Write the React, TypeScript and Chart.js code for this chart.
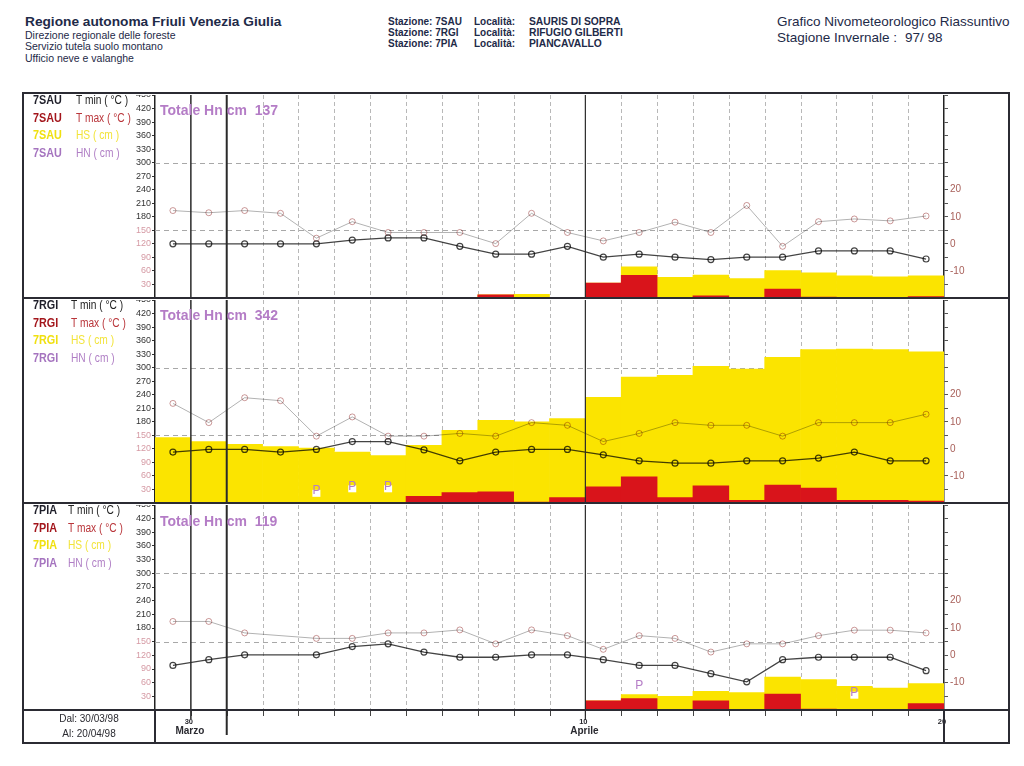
import React, { useEffect, useRef } from 'react';
import { Chart, registerables } from 'chart.js';

Chart.register(...registerables);

// ---------- data ----------
const days = ['30', '31', '1', '2', '3', '4', '5', '6', '7', '8', '9', '10', '11', '12', '13', '14', '15', '16', '17', '18', '19', '20'];
const axisTickBoundaries = [1, 12, 22];
const axisTickDays = ['30', '10', '20'];
const axisTickMonths = ['Marzo', 'Aprile', ''];
const strongBoundaries = [1, 2, 12];
const hsGridValues = [150, 300];
const tempLabelValues = [-10, 0, 10, 20];

const sauTmin = [0, 0, 0, 0, 0, 1.4, 2.2, 2.2, -0.9, -3.8, -3.8, -0.9, -4.9, -3.8, -4.9, -5.8, -4.9, -4.9, -2.6, -2.6, -2.6, -5.6];
const sauTmax = [12.3, 11.5, 12.3, 11.3, 2.1, 8.2, 4.2, 4.2, 4.2, 0.1, 11.3, 4.2, 1.1, 4.2, 8.0, 4.2, 14.2, -0.9, 8.2, 9.2, 8.5, 10.3];
const sauHS = [null, null, null, null, null, null, null, null, null, 7, 8, null, 33, 69, 46, 51, 43, 61, 56, 49, 47, 49];
const sauHN = [null, null, null, null, null, null, null, null, null, 7, null, null, 33, 50, null, 5, null, 20, 2, null, null, 3];
const sauTotal = 137;
const sauPDays: number[] = [];
const sauPLevels: number[] = [];

const rgiTmin = [-1.2, -0.2, -0.2, -1.2, -0.2, 2.7, 2.7, -0.4, -4.4, -1.2, -0.2, -0.2, -2.2, -4.4, -5.3, -5.3, -4.4, -4.4, -3.4, -1.2, -4.4, -4.4];
const rgiTmax = [16.8, 9.7, 18.9, 17.8, 4.7, 11.8, 4.7, 4.7, 5.7, 4.7, 9.7, 8.7, 2.7, 5.7, 9.7, 8.7, 8.7, 4.7, 9.7, 9.7, 9.7, 12.8];
const rgiHS = [145, 136, 130, 125, 122, 113, 105, 128, 161, 183, 180, 187, 234, 279, 283, 303, 297, 323, 340, 341, 340, 335];
const rgiHN = [null, null, null, null, null, null, null, 15, 23, 25, 2, 12, 36, 58, 12, 38, 6, 40, 33, 6, 6, 4];
const rgiTotal = 342;
const rgiPDays = [4, 5, 6];
const rgiPLevels = [27, 37, 37];

const piaTmin = [-3.7, -1.6, 0.2, null, 0.2, 3.2, 4.2, 1.2, -0.7, -0.7, 0.2, 0.2, -1.6, -3.7, -3.7, -6.7, -9.7, -1.6, -0.7, -0.7, -0.7, -5.6];
const piaTmax = [12.4, 12.4, 8.2, null, 6.2, 6.2, 8.2, 8.2, 9.3, 4.2, 9.3, 7.2, 2.2, 7.2, 6.2, 1.2, 4.2, 4.2, 7.2, 9.2, 9.2, 8.2];
const piaHS = [null, null, null, null, null, null, null, null, null, null, null, null, 20, 34, 30, 41, 38, 72, 67, 52, 48, 58];
const piaHN = [null, null, null, null, null, null, null, null, null, null, null, null, 20, 25, null, 20, 1, 35, 2, null, null, 14];
const piaTotal = 119;
const piaPDays = [13, 19];
const piaPLevels = [53, 38];

const legendLabels = ['T min ( °C )', 'T max ( °C )', 'HS ( cm )', 'HN ( cm )'];

// ---------- styling ----------
const FONT = 'Arial, "Liberation Sans", Helvetica, sans-serif';
const YELLOW = '#fbe400';
const RED = '#d9141b';
const TMIN_COLOR = '#444444';
const TMAX_COLOR = '#b2b2b2';
const TMAX_POINT = '#cc9a9a';
const PURPLE = '#b47cc6';

const decorPlugin = {
  id: 'panelDecor',
  beforeDatasetsDraw(chart: any) {
    const { ctx, chartArea: a, scales } = chart;
    const x = scales.x;
    const y = scales.y;
    ctx.save();
    ctx.lineWidth = 1;
    ctx.strokeStyle = '#a8a8a8';
    ctx.setLineDash([5, 4]);
    for (const v of hsGridValues) {
      const py = Math.round(y.getPixelForValue(v)) + 0.5;
      ctx.beginPath();
      ctx.moveTo(a.left, py);
      ctx.lineTo(a.right, py);
      ctx.stroke();
    }
    ctx.strokeStyle = '#b8b8b8';
    ctx.setLineDash([4, 3]);
    for (let k = 1; k < days.length; k++) {
      if (strongBoundaries.includes(k)) continue;
      const px = Math.round(x.getPixelForValue(k - 0.5)) + 0.5;
      ctx.beginPath();
      ctx.moveTo(px, a.top);
      ctx.lineTo(px, a.bottom);
      ctx.stroke();
    }
    ctx.restore();
  },
  beforeDatasetDraw(chart: any, args: any) {
    if (args.meta.type === 'line') chart.ctx.globalCompositeOperation = 'multiply';
  },
  afterDatasetDraw(chart: any) {
    chart.ctx.globalCompositeOperation = 'source-over';
  },
  afterDatasetsDraw(chart: any, _args: any, opts: any) {
    const { ctx, chartArea: a, scales } = chart;
    const x = scales.x;
    const y = scales.y;
    ctx.save();
    const widths = [1.5, 2, 1.2];
    strongBoundaries.forEach((k, i) => {
      const px = x.getPixelForValue(k - 0.5);
      ctx.strokeStyle = '#2a2a2a';
      ctx.lineWidth = widths[i];
      ctx.beginPath();
      ctx.moveTo(px, a.top);
      ctx.lineTo(px, a.bottom);
      ctx.stroke();
    });
    const pDays: number[] = opts.pDays || [];
    const pLevels: number[] = opts.pLevels || [];
    ctx.font = '12px ' + FONT;
    ctx.textAlign = 'center';
    ctx.textBaseline = 'middle';
    pDays.forEach((d, i) => {
      const px = x.getPixelForValue(d);
      const py = y.getPixelForValue(pLevels[i]);
      ctx.fillStyle = '#ffffff';
      ctx.fillRect(px - 4, py - 1, 8, 7);
      ctx.fillStyle = PURPLE;
      ctx.fillText('P', px, py);
    });
    ctx.restore();
  },
  afterDraw(chart: any, _args: any, opts: any) {
    if (!opts.bottomBand) return;
    const { ctx, chartArea: a, scales } = chart;
    const x = scales.x;
    const b = a.bottom;
    ctx.save();
    ctx.strokeStyle = '#444';
    ctx.lineWidth = 1;
    for (let k = 1; k < days.length; k++) {
      const px = Math.round(x.getPixelForValue(k - 0.5)) + 0.5;
      ctx.beginPath();
      ctx.moveTo(px, b);
      ctx.lineTo(px, b + 6);
      ctx.stroke();
    }
    const ext = [9, 25, 10];
    const widths = [1.5, 2, 1.2];
    strongBoundaries.forEach((k, i) => {
      const px = x.getPixelForValue(k - 0.5);
      ctx.strokeStyle = '#2a2a2a';
      ctx.lineWidth = widths[i];
      ctx.beginPath();
      ctx.moveTo(px, b);
      ctx.lineTo(px, b + ext[i]);
      ctx.stroke();
    });
    ctx.fillStyle = '#2a2a30';
    ctx.textAlign = 'center';
    ctx.textBaseline = 'middle';
    axisTickBoundaries.forEach((k, i) => {
      const px = x.getPixelForValue(k - 0.5);
      ctx.font = 'bold 7.5px ' + FONT;
      ctx.fillText(axisTickDays[i], px - 2, b + 12);
      ctx.font = 'bold 10px ' + FONT;
      ctx.fillText(axisTickMonths[i], px - 1, b + 21);
    });
    ctx.restore();
  },
};

type PanelProps = {
  top: number;
  height: number;
  padBottom: number;
  tmin: (number | null)[];
  tmax: (number | null)[];
  hs: (number | null)[];
  hn: (number | null)[];
  pDays: number[];
  pLevels: number[];
  bottomBand: boolean;
};

function Panel(p: PanelProps) {
  const ref = useRef<HTMLCanvasElement>(null);
  useEffect(() => {
    const chart = new Chart(ref.current as HTMLCanvasElement, {
      type: 'bar',
      data: {
        labels: days,
        datasets: [
          {
            type: 'line',
            label: 'T min',
            data: p.tmin,
            yAxisID: 'yT',
            borderColor: TMIN_COLOR,
            borderWidth: 1.3,
            pointRadius: 3,
            pointBorderColor: TMIN_COLOR,
            pointBackgroundColor: 'rgba(0,0,0,0)',
            pointBorderWidth: 1.2,
            spanGaps: true,
            order: 0,
          } as any,
          {
            type: 'line',
            label: 'T max',
            data: p.tmax,
            yAxisID: 'yT',
            borderColor: TMAX_COLOR,
            borderWidth: 1,
            pointRadius: 3,
            pointBorderColor: TMAX_POINT,
            pointBackgroundColor: 'rgba(0,0,0,0)',
            pointBorderWidth: 1,
            spanGaps: true,
            order: 0,
          } as any,
          {
            type: 'bar',
            label: 'HN',
            data: p.hn,
            yAxisID: 'y',
            backgroundColor: RED,
            borderWidth: 0,
            grouped: false,
            barPercentage: 1,
            categoryPercentage: 1,
            order: 1,
          } as any,
          {
            type: 'bar',
            label: 'HS',
            data: p.hs,
            yAxisID: 'y',
            backgroundColor: YELLOW,
            borderWidth: 0,
            grouped: false,
            barPercentage: 1,
            categoryPercentage: 1,
            order: 2,
          } as any,
        ],
      },
      options: {
        animation: false,
        responsive: false,
        maintainAspectRatio: false,
        devicePixelRatio: 1,
        events: [],
        layout: { autoPadding: false, padding: { left: 0, right: 0, top: 0, bottom: p.padBottom } } as any,
        plugins: {
          legend: { display: false },
          tooltip: { enabled: false },
          panelDecor: { pDays: p.pDays, pLevels: p.pLevels, bottomBand: p.bottomBand },
        } as any,
        scales: {
          x: { type: 'category', display: false, offset: true, grid: { display: false } },
          y: {
            position: 'left',
            min: 0,
            max: 450,
            afterFit: (s: any) => {
              s.width = 55;
              s.paddingTop = 0;
              s.paddingBottom = 0;
            },
            ticks: {
              stepSize: 30,
              autoSkip: false,
              padding: 1,
              font: { size: 9, family: FONT },
              color: (c: any) => (c.tick && c.tick.value <= 150 ? '#d59aa4' : '#333'),
              callback: (v: any) => (v === 0 ? '' : String(v)),
            },
            grid: { drawOnChartArea: false, drawTicks: true, tickLength: 3, color: '#333' },
            border: { display: true, color: '#222', width: 1.5 },
          } as any,
          yT: {
            position: 'right',
            min: -20,
            max: 55,
            afterFit: (s: any) => {
              s.width = 66;
              s.paddingTop = 0;
              s.paddingBottom = 0;
            },
            ticks: {
              stepSize: 5,
              autoSkip: false,
              padding: 2,
              font: { size: 10, family: FONT },
              color: '#a8605a',
              callback: (v: any) => (tempLabelValues.includes(Number(v)) ? String(v) : ''),
            },
            grid: { drawOnChartArea: false, drawTicks: true, tickLength: 4, color: '#555' },
            border: { display: true, color: '#222', width: 1.5 },
          } as any,
        },
      },
      plugins: [decorPlugin as any],
    });
    return () => chart.destroy();
  }, []);
  return (
    <canvas
      ref={ref}
      width={910}
      height={p.height}
      style={{ position: 'absolute', left: 100, top: p.top, width: 910, height: p.height }}
    />
  );
}

function Txt(props: { x: number; y: number; size: number; bold?: boolean; color?: string; children: React.ReactNode; w?: number; align?: 'left' | 'center'; sx?: number }) {
  return (
    <div
      style={{
        position: 'absolute',
        left: props.x,
        top: props.y,
        width: props.w,
        textAlign: props.align || 'left',
        fontSize: props.size,
        fontWeight: props.bold ? 'bold' : 'normal',
        color: props.color || '#222',
        whiteSpace: 'nowrap',
        lineHeight: 1,
        fontFamily: FONT,
        transform: props.sx ? `scaleX(${props.sx})` : undefined,
        transformOrigin: 'left top',
      }}
    >
      {props.children}
    </div>
  );
}

const legendCodeColors = ['#1f1f2a', '#a3161c', '#f0e010', '#a574bf'];
const legendTextColors = ['#222', '#b9353a', '#f2e43a', '#b07fc5'];

function Legend({ code, top, labelX }: { code: string; top: number; labelX: number }) {
  return (
    <>
      {legendLabels.map((lab, i) => (
        <React.Fragment key={i}>
          <Txt x={33} y={top + 1 + 17.5 * i} size={12} bold color={legendCodeColors[i]} sx={0.9}>
            {code}
          </Txt>
          <Txt x={labelX} y={top + 1 + 17.5 * i} size={12} color={legendTextColors[i]} sx={0.85}>
            {lab}
          </Txt>
        </React.Fragment>
      ))}
    </>
  );
}

export default function App() {
  const navy = '#1e2a48';
  return (
    <div style={{ position: 'absolute', left: 0, top: 0, width: 1024, height: 766, background: '#fff', overflow: 'hidden', fontFamily: FONT }}>
      {/* header */}
      <Txt x={25} y={15} size={13.7} bold color={navy}>Regione autonoma Friuli Venezia Giulia</Txt>
      <Txt x={25} y={30} size={10.5} color={navy}>Direzione regionale delle foreste</Txt>
      <Txt x={25} y={41} size={10.5} color={navy}>Servizio tutela suolo montano</Txt>
      <Txt x={25} y={53} size={10.5} color={navy}>Ufficio neve e valanghe</Txt>

      <Txt x={388} y={17} size={10} bold color={navy}>Stazione: 7SAU</Txt>
      <Txt x={388} y={28} size={10} bold color={navy}>Stazione: 7RGI</Txt>
      <Txt x={388} y={39} size={10} bold color={navy}>Stazione: 7PIA</Txt>
      <Txt x={474} y={17} size={10} bold color={navy}>Località:</Txt>
      <Txt x={474} y={28} size={10} bold color={navy}>Località:</Txt>
      <Txt x={474} y={39} size={10} bold color={navy}>Località:</Txt>
      <Txt x={529} y={17} size={10.3} bold color={navy}>SAURIS DI SOPRA</Txt>
      <Txt x={529} y={28} size={10.3} bold color={navy}>RIFUGIO GILBERTI</Txt>
      <Txt x={529} y={39} size={10.3} bold color={navy}>PIANCAVALLO</Txt>

      <Txt x={777} y={15} size={13.5} color={navy}>Grafico Nivometeorologico Riassuntivo</Txt>
      <Txt x={777} y={31} size={13.5} color={navy}>Stagione Invernale :</Txt>
      <Txt x={905} y={31} size={13.5} color={navy}>97/ 98</Txt>

      {/* charts */}
      <Panel top={95} height={203} padBottom={0} tmin={sauTmin} tmax={sauTmax} hs={sauHS} hn={sauHN} pDays={sauPDays} pLevels={sauPLevels} bottomBand={false} />
      <Panel top={300} height={203} padBottom={0} tmin={rgiTmin} tmax={rgiTmax} hs={rgiHS} hn={rgiHN} pDays={rgiPDays} pLevels={rgiPLevels} bottomBand={false} />
      <Panel top={505} height={239} padBottom={34} tmin={piaTmin} tmax={piaTmax} hs={piaHS} hn={piaHN} pDays={piaPDays} pLevels={piaPLevels} bottomBand={true} />

      {/* frame */}
      <div style={{ position: 'absolute', left: 22, top: 92, width: 988, height: 652, border: '2px solid #2b2b33', boxSizing: 'border-box' }} />
      <div style={{ position: 'absolute', left: 22, top: 297, width: 988, height: 2, background: '#2b2b33' }} />
      <div style={{ position: 'absolute', left: 22, top: 502, width: 988, height: 2, background: '#2b2b33' }} />
      <div style={{ position: 'absolute', left: 22, top: 709, width: 988, height: 2, background: '#2b2b33' }} />
      <div style={{ position: 'absolute', left: 154, top: 710, width: 1.5, height: 33, background: '#2b2b33' }} />
      <div style={{ position: 'absolute', left: 943, top: 710, width: 1.5, height: 33, background: '#2b2b33' }} />

      {/* legends */}
      <Legend code="7SAU" top={93} labelX={76} />
      <Legend code="7RGI" top={298} labelX={71} />
      <Legend code="7PIA" top={503} labelX={68} />

      {/* totals */}
      <Txt x={160} y={103} size={14} bold color={PURPLE}>Totale Hn cm&nbsp;&nbsp;{sauTotal}</Txt>
      <Txt x={160} y={308} size={14} bold color={PURPLE}>Totale Hn cm&nbsp;&nbsp;{rgiTotal}</Txt>
      <Txt x={160} y={514} size={14} bold color={PURPLE}>Totale Hn cm&nbsp;&nbsp;{piaTotal}</Txt>

      {/* period */}
      <Txt x={24} y={714} w={130} align="center" size={10} color="#2a2a30">Dal: 30/03/98</Txt>
      <Txt x={24} y={729} w={130} align="center" size={10} color="#2a2a30">Al: 20/04/98</Txt>
    </div>
  );
}
